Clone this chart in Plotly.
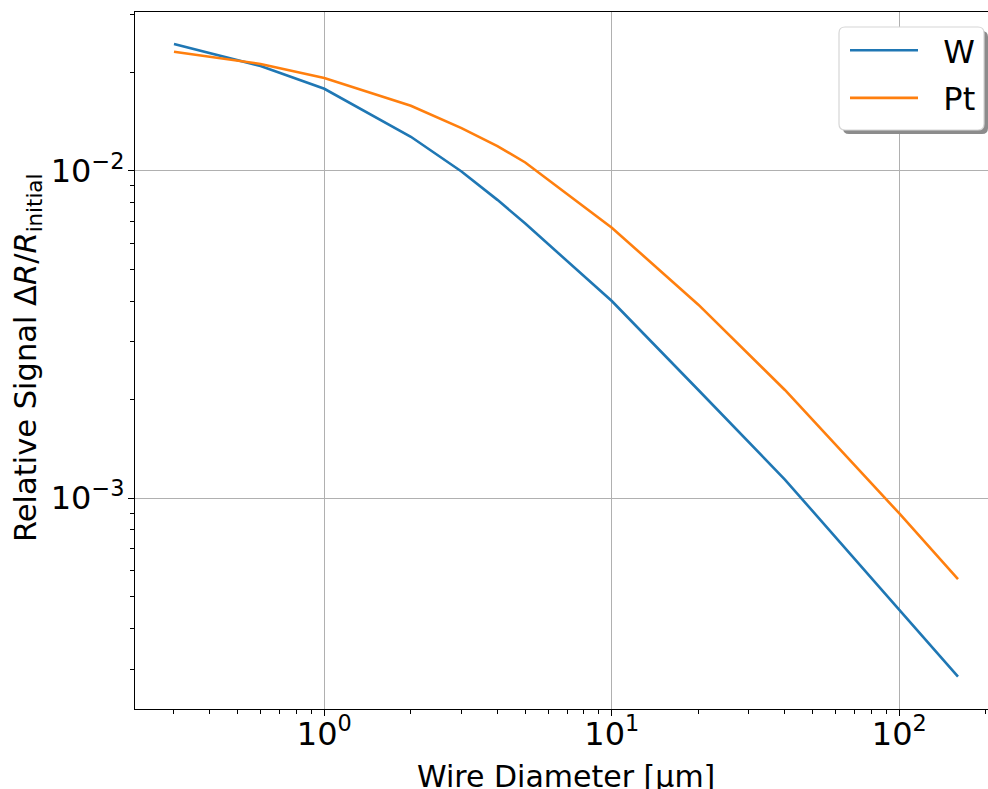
import plotly.graph_objects as go

# Wire diameter [µm] and relative signal for the two wire materials
diameter_um = [0.3, 0.6, 1, 2, 3, 4, 5, 10, 20, 40, 100, 160]
signal_w = [0.0244, 0.0209, 0.0178, 0.0127, 0.00995, 0.00815, 0.0069,
            0.0040, 0.00214, 0.00114, 0.000456, 0.000285]
signal_pt = [0.0231, 0.0212, 0.0192, 0.0158, 0.0135, 0.0119, 0.0106,
             0.0067, 0.0039, 0.00214, 0.000898, 0.000566]

x_major = [1, 10, 100]
x_major_text = ["10<sup>0</sup>", "10<sup>1</sup>", "10<sup>2</sup>"]
y_major = [1e-3, 1e-2]
y_major_text = ["10<sup>\u22123</sup>", "10<sup>\u22122</sup>"]

W, H = 988, 789
ML, MR, MT, MB = 135, 0, 12, 80
PW, PH = W - ML - MR, H - MT - MB
FONT = "DejaVu Sans"
GAP = "\u00a0\u00a0"  # spacing between legend line sample and label


def px(xp):
    return (xp - ML) / PW


def py(yp):
    return (H - MB - yp) / PH


def minor_vals(decades):
    return [m * 10.0 ** d for d in decades for m in range(2, 10)]


fig = go.Figure()
fig.add_trace(go.Scatter(x=diameter_um, y=signal_w, mode="lines", name=GAP + "W",
                         legendgroup="w",
                         line=dict(color="#1f77b4", width=2.6)))
fig.add_trace(go.Scatter(x=diameter_um, y=signal_pt, mode="lines", name=GAP + "Pt",
                         legendgroup="pt",
                         line=dict(color="#ff7f0e", width=2.6)))

axis_common = dict(
    type="log", showline=True, linecolor="black", linewidth=1.3,
    ticks="outside", ticklen=6, tickwidth=1.3, tickcolor="black",
    showgrid=True, gridcolor="#b0b0b0", gridwidth=1.3, zeroline=False,
    tickfont=dict(family=FONT, size=32, color="black"),
)

fig.update_xaxes(
    **axis_common, range=[-0.6585, 2.3085], mirror=True,
    tickmode="array", tickvals=x_major, ticktext=x_major_text,
    ticklabelstandoff=-10,
    minor=dict(tickvals=minor_vals([-1, 0, 1, 2]), ticks="outside",
               ticklen=3.5, tickwidth=1, tickcolor="black", showgrid=False),
)
fig.update_yaxes(
    **axis_common, range=[-3.644, -1.515],
    tickmode="array", tickvals=y_major, ticktext=y_major_text,
    ticklabelstandoff=-3,
    minor=dict(tickvals=minor_vals([-4, -3, -2]), ticks="outside",
               ticklen=3.5, tickwidth=1, tickcolor="black", showgrid=False),
)

# Axis labels
fig.add_annotation(text="Wire Diameter [\u00b5m]", xref="paper", yref="paper",
                   x=px(566), y=py(757), xanchor="center", yanchor="top",
                   showarrow=False, font=dict(family=FONT, size=30, color="black"))
fig.add_annotation(text="Relative Signal \u0394<i>R</i>/<i>R</i><sub>initial</sub>",
                   xref="paper", yref="paper", x=px(27), y=py(358),
                   xanchor="center", yanchor="middle", textangle=-90,
                   showarrow=False, font=dict(family=FONT, size=30.5, color="black"))

# Legend frame: rounded box with a drop shadow
def rounded_path(x0, y0, x1, y1, r):
    rx, ry = r / PW, r / PH
    a0, b0, a1, b1 = px(x0), py(y1), px(x1), py(y0)
    return (f"M{a0+rx},{b0} L{a1-rx},{b0} Q{a1},{b0} {a1},{b0+ry} "
            f"L{a1},{b1-ry} Q{a1},{b1} {a1-rx},{b1} L{a0+rx},{b1} "
            f"Q{a0},{b1} {a0},{b1-ry} L{a0},{b0+ry} Q{a0},{b0} {a0+rx},{b0} Z")

LX0, LY0, LX1, LY1 = 839, 27, 984, 130
fig.add_shape(type="path", path=rounded_path(LX0 + 4, LY0 + 4, LX1 + 4, LY1 + 4, 6),
              xref="paper", yref="paper", fillcolor="#8c8c8c",
              line=dict(width=0), layer="above")
fig.add_shape(type="path", path=rounded_path(LX0, LY0, LX1, LY1, 6),
              xref="paper", yref="paper", fillcolor="white",
              line=dict(color="#d6d6d6", width=1.2), layer="above")

fig.update_layout(
    width=W, height=H,
    margin=dict(l=ML, r=MR, t=MT, b=MB, pad=0),
    paper_bgcolor="white", plot_bgcolor="white",
    font=dict(family=FONT, size=32, color="black"),
    showlegend=True,
    legend=dict(x=px(845), y=py(23), xanchor="left", yanchor="top",
                bgcolor="rgba(0,0,0,0)", borderwidth=0,
                font=dict(family=FONT, size=32, color="black"),
                itemwidth=68, tracegroupgap=3, traceorder="grouped"),
)

fig.write_html("out.html")
